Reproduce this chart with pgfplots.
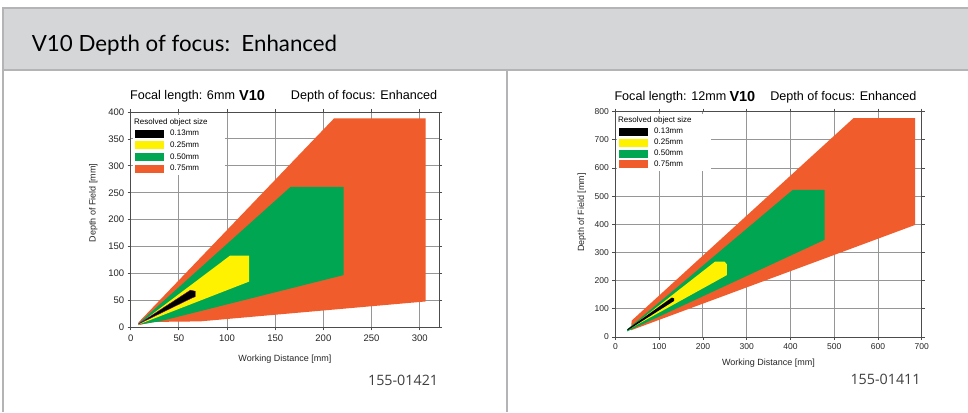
\documentclass[border=0pt]{standalone}
\usepackage{pgfplots}
\pgfplotsset{compat=1.18}
\usepackage{fontspec}
\setmainfont{Liberation Sans}
\newfontfamily\headfont{Lato}
\newfontfamily\codefont{Open Sans}
\definecolor{dorange}{RGB}{241,92,44}
\definecolor{dgreen}{RGB}{0,166,81}
\definecolor{dyellow}{RGB}{255,242,0}
\definecolor{hdrgray}{RGB}{213,214,216}
\definecolor{brdgray}{RGB}{180,180,182}
\definecolor{gridgray}{RGB}{150,150,150}
\definecolor{dpurple}{RGB}{110,20,110}

\pgfplotsset{
 dofstyle/.style={
   scale only axis,
   anchor=south west,
   axis line style={black!70, line width=0.8pt},
   grid=major,
   major grid style={gridgray, line width=0.9pt},
   tick align=outside,
   major tick length=3pt,
   tick style={black!70, line width=0.8pt},
   /pgf/number format/assume math mode=true,
   ticklabel style={text=black!85},
   label style={font=\fontsize{9}{10}\selectfont, text=black!85},
   legend image code/.code={\fill[##1, draw=none] (0pt,-4pt) rectangle (29pt,4pt); \path[draw=none, fill=none] (29pt,0pt) -- (34pt,0pt);},
   legend style={draw=none, fill=white, inner xsep=2pt, inner ysep=2pt, row sep=2.6pt,
     legend cell align=left, font=\fontsize{8}{9}\selectfont,
     nodes={inner ysep=1pt, inner xsep=1pt}},
 }
}

\begin{document}
\begin{tikzpicture}
\useasboundingbox (0pt,0pt) rectangle (968pt,412pt);
\fill[white] (0pt,0pt) rectangle (968pt,412pt);
\fill[hdrgray] (3pt,342pt) rectangle (968pt,404pt);
\draw[brdgray, line width=1.5pt] (968pt,404pt) -- (3pt,404pt) -- (3pt,0pt);
\draw[brdgray, line width=1.5pt] (3pt,342pt) -- (968pt,342pt);
\draw[brdgray, line width=1.5pt] (507pt,342pt) -- (507pt,0pt);
\node[anchor=base west, font=\headfont\fontsize{22.3}{25}\selectfont, inner sep=0pt] at (31.7pt,360.5pt) {V10 Depth of focus:\ \ Enhanced};

% ---------------- left chart: 6 mm
\begin{axis}[dofstyle, at={(130.7pt,84.7pt)}, width=308.3pt, height=215.3pt,
  xmin=0, xmax=320, ymin=0, ymax=400,
  xtick={0,50,...,300}, ytick={0,50,...,400},
  ticklabel style={font=\fontsize{9.5}{10}\selectfont},
  xticklabel style={yshift=-1.5pt},
  xlabel={Working Distance [mm]}, ylabel={Depth of Field [mm]},
  xlabel style={at={(axis description cs:0.5,-0.147)}, anchor=center},
  ylabel style={at={(axis description cs:-0.121,0.577)}, anchor=center},
  legend style={at={(0.0075,0.986)}, anchor=north west}]
\addlegendimage{empty legend}\addlegendentry{\hspace*{-36pt}Resolved object size\hspace*{14pt}}
\addlegendimage{fill=black}\addlegendentry{0.13mm}
\addlegendimage{fill=dyellow}\addlegendentry{0.25mm}
\addlegendimage{fill=dgreen}\addlegendentry{0.50mm}
\addlegendimage{fill=dorange}\addlegendentry{0.75mm}
\addplot[fill=dorange, draw=none, forget plot] coordinates {(8,4) (8,9) (211,388) (306,388) (306,48) (72,11) (25,10)} -- cycle;
\addplot[fill=dgreen, draw=none, forget plot] coordinates {(8,5) (8,7) (166,261) (221,261) (221,97) (30,11)} -- cycle;
\addplot[fill=dyellow, draw=none, forget plot] coordinates {(8,5) (103,133) (123,133) (123,85)} -- cycle;
\addplot[fill=black, draw=dpurple, line width=0.4pt, forget plot] coordinates {(8,6) (62,69) (67,67) (67,57) (63,54)} -- cycle;
\end{axis}

% ---------------- right chart: 12 mm
\begin{axis}[dofstyle, at={(615.4pt,75pt)}, width=306.3pt, height=225.3pt,
  xmin=0, xmax=700, ymin=0, ymax=800,
  xtick={0,100,...,700}, ytick={0,100,...,800},
  ticklabel style={font=\fontsize{8.5}{9}\selectfont},
  xlabel={Working Distance [mm]}, ylabel={Depth of Field [mm]},
  xlabel style={at={(axis description cs:0.5,-0.114)}, anchor=center},
  ylabel style={at={(axis description cs:-0.110,0.553)}, anchor=center},
  legend style={at={(0.005,0.99)}, anchor=north west, row sep=1.8pt}]
\addlegendimage{empty legend}\addlegendentry{\hspace*{-36pt}Resolved object size\hspace*{16pt}}
\addlegendimage{fill=black}\addlegendentry{0.13mm}
\addlegendimage{fill=dyellow}\addlegendentry{0.25mm}
\addlegendimage{fill=dgreen}\addlegendentry{0.50mm}
\addlegendimage{fill=dorange}\addlegendentry{0.75mm}
\addplot[fill=dorange, draw=none, forget plot] coordinates {(36,24) (37,58) (544,777) (685,777) (685,398)} -- cycle;
\addplot[fill=dgreen, draw=none, forget plot] coordinates {(27,20) (27,27) (405,522) (478,522) (478,345)} -- cycle;
\addplot[fill=dyellow, draw=none, forget plot] coordinates {(28,25) (228,268) (249,268) (255,258) (255,220)} -- cycle;
\addplot[fill=black, draw=none, forget plot] coordinates {(27,27) (129,140) (134,137) (134,128) (29,25)} -- cycle;
\end{axis}

% titles
\node[anchor=base west, inner sep=0pt, font=\fontsize{12.6}{14}\selectfont] at (130pt,312pt) {Focal length: 6mm};
\node[anchor=base west, inner sep=0pt, font=\bfseries\fontsize{14.5}{16}\selectfont] at (239pt,311pt) {V10};
\node[anchor=base east, inner sep=0pt, font=\fontsize{12.6}{14}\selectfont] at (437.3pt,312pt) {Depth of focus: Enhanced};
\node[anchor=base west, inner sep=0pt, font=\fontsize{12.6}{14}\selectfont] at (614.3pt,311.3pt) {Focal length: 12mm};
\node[anchor=base west, inner sep=0pt, font=\bfseries\fontsize{14.5}{16}\selectfont] at (729.3pt,310.5pt) {V10};
\node[anchor=base east, inner sep=0pt, font=\fontsize{12.6}{14}\selectfont] at (916.7pt,311.3pt) {Depth of focus: Enhanced};

% codes
\node[anchor=east, inner sep=0pt, font=\codefont\fontsize{14.3}{16}\selectfont, text=black!75] at (438.3pt,32pt) {155-01421};
\node[anchor=east, inner sep=0pt, font=\codefont\fontsize{14.3}{16}\selectfont, text=black!75] at (920.7pt,32.7pt) {155-01411};
\end{tikzpicture}
\end{document}
